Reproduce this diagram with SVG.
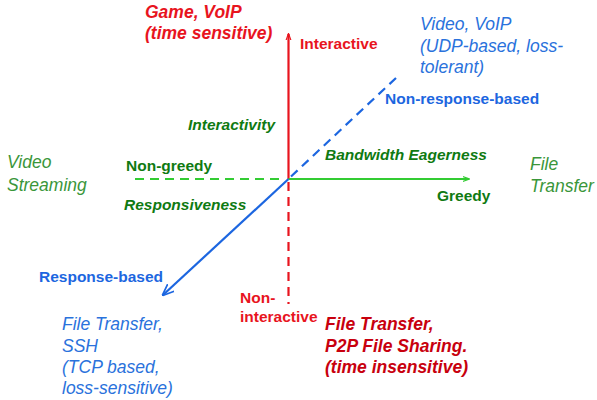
<svg xmlns="http://www.w3.org/2000/svg" width="597" height="400" viewBox="0 0 597 400">
  <style>
    text { font-family: "Liberation Sans", Arial, sans-serif; }
    .tag { font-size: 15.5px; font-weight: bold; }
    .axis { font-size: 15.5px; font-weight: bold; font-style: italic; }
    .ex { font-size: 17.5px; font-style: italic; }
    .exb { font-size: 17.5px; font-style: italic; font-weight: bold; }
    .red { fill: #e8141e; }
    .dred { fill: #c8000e; }
    .green { fill: #0f7a12; }
    .lgreen { fill: #3a963a; }
    .blue { fill: #1c66e0; }
    .lblue { fill: #2a72dc; }
    .ln { fill: none; stroke-width: 2.2; }
    .dash { stroke-dasharray: 9 6; }
  </style>
  <defs>
    <marker id="arrRed" viewBox="0 0 10 10" refX="9" refY="5" markerWidth="7" markerHeight="7" markerUnits="userSpaceOnUse" orient="auto">
      <path d="M0,1.5 L10,5 L0,8.5" fill="none" stroke="#e8141e" stroke-width="1.6"/>
    </marker>
    <marker id="arrGreen" viewBox="0 0 10 10" refX="9" refY="5" markerWidth="7" markerHeight="7" markerUnits="userSpaceOnUse" orient="auto">
      <path d="M0,1.5 L10,5 L0,8.5" fill="none" stroke="#33cc33" stroke-width="1.6"/>
    </marker>
    <marker id="arrBlue" viewBox="0 0 10 10" refX="9" refY="5" markerWidth="12" markerHeight="12" markerUnits="userSpaceOnUse" orient="auto">
      <path d="M0,1 L10,5 L0,9" fill="none" stroke="#1c66e0" stroke-width="1.4"/>
    </marker>
  </defs>

  <!-- axes -->
  <g id="connectors">
    <line class="ln" x1="288.5" y1="179" x2="288.5" y2="34" stroke="#e8141e" marker-end="url(#arrRed)"/>
    <line class="ln dash" x1="288.5" y1="182" x2="288.5" y2="304" stroke="#e8141e"/>
    <line class="ln" x1="288.5" y1="179" x2="469" y2="179" stroke="#33cc33" marker-end="url(#arrGreen)"/>
    <line class="ln dash" x1="135" y1="179" x2="285" y2="179" stroke="#33cc33"/>
    <line class="ln" x1="288.5" y1="179" x2="163" y2="295" stroke="#1c66e0" marker-end="url(#arrBlue)"/>
    <line class="ln dash" x1="291" y1="176.5" x2="397" y2="77" stroke="#1c66e0"/>
  </g>

  <!-- interactivity axis -->
  <g id="interactive">
    <text class="tag red" x="300" y="49">Interactive</text>
  </g>
  <g id="non-interactive">
    <text class="tag red" x="240" y="303">Non-</text>
    <text class="tag red" x="240" y="322">interactive</text>
  </g>
  <g id="interactivity">
    <text class="axis green" x="188" y="129.5">Interactivity</text>
  </g>
  <g id="game-voip">
    <text class="exb red" x="145" y="18">Game, VoIP</text>
    <text class="exb red" x="145" y="39">(time sensitive)</text>
  </g>
  <g id="file-transfer-p2p">
    <text class="exb dred" x="325" y="330">File Transfer,</text>
    <text class="exb dred" x="325" y="352">P2P File Sharing.</text>
    <text class="exb dred" x="325" y="373">(time insensitive)</text>
  </g>

  <!-- bandwidth eagerness axis -->
  <g id="non-greedy">
    <text class="tag green" x="126" y="170.5">Non-greedy</text>
  </g>
  <g id="greedy">
    <text class="tag green" x="437" y="201">Greedy</text>
  </g>
  <g id="bandwidth-eagerness">
    <text class="axis green" x="325" y="159.5">Bandwidth Eagerness</text>
  </g>
  <g id="video-streaming">
    <text class="ex lgreen" x="7" y="168">Video</text>
    <text class="ex lgreen" x="7" y="190.5">Streaming</text>
  </g>
  <g id="file-transfer-green">
    <text class="ex lgreen" x="530" y="170">File</text>
    <text class="ex lgreen" x="530" y="192">Transfer</text>
  </g>

  <!-- responsiveness axis -->
  <g id="responsiveness">
    <text class="axis green" x="124" y="210">Responsiveness</text>
  </g>
  <g id="non-response-based">
    <text class="tag blue" x="385" y="104">Non-response-based</text>
  </g>
  <g id="response-based">
    <text class="tag blue" x="39" y="282">Response-based</text>
  </g>
  <g id="video-voip">
    <text class="ex lblue" x="420" y="30">Video, VoIP</text>
    <text class="ex lblue" x="420" y="52">(UDP-based, loss-</text>
    <text class="ex lblue" x="420" y="73">tolerant)</text>
  </g>
  <g id="file-transfer-ssh">
    <text class="ex lblue" x="62" y="330">File Transfer,</text>
    <text class="ex lblue" x="62" y="352">SSH</text>
    <text class="ex lblue" x="62" y="373">(TCP based,</text>
    <text class="ex lblue" x="62" y="394">loss-sensitive)</text>
  </g>
</svg>
